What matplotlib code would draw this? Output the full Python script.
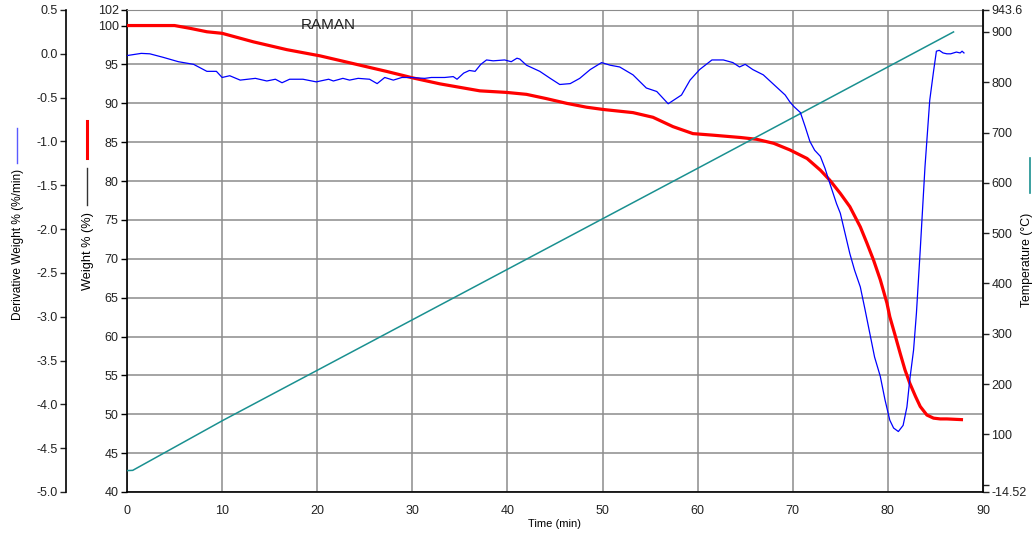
import matplotlib

matplotlib.use("Agg")
import matplotlib.pyplot as plt
from matplotlib.lines import Line2D

plt.rcParams["font.family"] = ["Liberation Sans", "DejaVu Sans"]

INK, GRID = "#000000", "#8c8c8c"
RED, BLUE, TEAL = "#ff0000", "#0000ff", "#1a9090"

# derivative weight (%/min) vs time (min)
time_deriv = [0, 1.5, 2.4, 3.8, 5.4, 7.0, 8.4, 9.4, 10.0, 10.8, 11.9, 13.5, 14.7, 15.6, 16.3,
              17.1, 18.5, 19.9, 21.2, 21.7, 22.7, 23.4, 24.3, 25.5, 26.3, 27.1, 28.0, 28.9,
              29.8, 31.3, 32.0, 33.4, 34.3, 34.7, 35.4, 36.0, 36.6, 37.2, 37.8, 38.5, 39.7,
              40.4, 41.0, 41.3, 42.0, 43.4, 44.5, 45.5, 46.6, 47.6, 48.7, 49.9, 50.8, 51.8,
              53.2, 54.6, 55.7, 56.9, 58.3, 59.2, 60.2, 61.5, 62.7, 63.7, 64.4, 65.0, 65.8,
              66.9, 68.1, 69.2, 69.7, 70.1, 70.8, 71.3, 71.8, 72.3, 72.9, 73.4, 73.9, 74.6,
              75.0, 75.5, 76.0, 76.5, 77.1, 77.6, 78.1, 78.6, 79.2, 79.7, 80.2, 80.6, 81.1,
              81.6, 82.0, 82.3, 82.7, 83.0, 83.4, 83.9, 84.4, 84.8, 85.1, 85.4, 85.8, 86.2,
              86.6, 87.2, 87.6, 87.8, 88.0]
deriv = [-0.02, 0.005, 0.0, -0.04, -0.09, -0.12, -0.20, -0.20, -0.27, -0.25, -0.30, -0.28,
         -0.31, -0.29, -0.33, -0.29, -0.29, -0.32, -0.29, -0.31, -0.28, -0.30, -0.28, -0.29,
         -0.34, -0.27, -0.30, -0.27, -0.27, -0.28, -0.27, -0.27, -0.26, -0.29, -0.22, -0.19,
         -0.20, -0.12, -0.07, -0.08, -0.07, -0.09, -0.05, -0.06, -0.13, -0.20, -0.28, -0.35,
         -0.34, -0.28, -0.18, -0.10, -0.13, -0.15, -0.24, -0.39, -0.43, -0.57, -0.47, -0.30,
         -0.18, -0.07, -0.07, -0.10, -0.15, -0.12, -0.18, -0.24, -0.36, -0.47, -0.55, -0.60,
         -0.67, -0.83, -1.00, -1.10, -1.17, -1.31, -1.48, -1.71, -1.82, -2.05, -2.28, -2.47,
         -2.66, -2.92, -3.19, -3.46, -3.68, -3.95, -4.18, -4.27, -4.31, -4.24, -4.03, -3.72,
         -3.38, -2.96, -2.24, -1.29, -0.53, -0.20, 0.03, 0.04, 0.01, 0.00, 0.00, 0.02, 0.01,
         0.03, 0.01]

# weight % vs time
time_w = [0, 5.0, 6.6, 8.4, 10.0, 13.3, 16.8, 20.3, 23.8, 27.3, 30.1, 32.9, 35.0, 37.1, 39.9,
          42.0, 44.1, 46.2, 48.3, 50.1, 53.2, 55.3, 57.4, 59.5, 61.6, 64.5, 66.2, 68.0, 69.7,
          71.5, 72.9, 73.9, 75.0, 76.0, 77.1, 77.8, 78.5, 79.2, 79.9, 80.2, 80.75, 81.3, 81.8,
          82.3, 82.9, 83.4, 84.1, 84.8, 85.5, 86.2, 87.9]
weight = [100.0, 100.0, 99.65, 99.2, 99.0, 97.9, 96.9, 96.1, 95.1, 94.1, 93.25, 92.5, 92.05,
          91.6, 91.4, 91.15, 90.6, 90.0, 89.5, 89.2, 88.8, 88.2, 87.0, 86.1, 85.9, 85.6, 85.37,
          84.85, 84.0, 82.9, 81.4, 80.1, 78.4, 76.7, 74.1, 72.0, 69.8, 67.3, 64.3, 62.55, 60.2,
          57.8, 55.7, 54.0, 52.3, 51.0, 49.9, 49.5, 49.4, 49.4, 49.3]

# temperature (°C) vs time
time_temp = [0, 0.6, 3.8, 10.1, 61.6, 86.9]
temp = [28, 28.5, 62, 128, 645, 900]

x_ticks = list(range(0, 91, 10))
w_ticks = list(range(40, 101, 5)) + [102]
d_ticks = [v / 2 for v in range(-10, 2)]
t_ticks = [-14.52, 0, 100, 200, 300, 400, 500, 600, 700, 800, 900, 943.6]
t_labels = ["-14.52", ""] + [str(v) for v in t_ticks[2:-1]] + ["943.6"]

fig = plt.figure(figsize=(10.36, 5.41), dpi=100)
fig.patch.set_facecolor("white")
L, R, B, T = 127 / 1036, 983 / 1036, 1 - 492 / 541, 1 - 10 / 541
ax = fig.add_axes([L, B, R - L, T - B])
ax_t = ax.twinx()
ax_d = ax.twinx()

# weight (main axes, grid lives here)
ax.plot(time_w, weight, color=RED, lw=2.3, solid_capstyle="butt", solid_joinstyle="round", zorder=3)
ax.set(xlim=(0, 90), ylim=(40, 102))
ax.set_xticks(x_ticks)
ax.set_yticks(w_ticks)
ax.grid(True, color=GRID, lw=1.1)
ax.tick_params(axis="x", length=0, pad=9, labelsize=9, colors="#222222")
ax.tick_params(axis="y", length=4, width=1, direction="out", labelsize=9, colors="#222222", pad=2)
ax.tick_params(axis="both", color=INK)
ax.set_xlabel("Time (min)", fontsize=8, labelpad=2)
for s in ["top", "right"]:
    ax.spines[s].set_color(GRID)
for s in ["left", "bottom"]:
    ax.spines[s].set_color(INK)
    ax.spines[s].set_linewidth(1.2)

# temperature (right)
ax_t.plot(time_temp, temp, color=TEAL, lw=1.1)
ax_t.set_ylim(-14.52, 943.6)
ax_t.set_yticks(t_ticks)
ax_t.set_yticklabels(t_labels)
ax_t.tick_params(axis="y", length=4, width=1, direction="out", labelsize=9, colors="#222222", pad=2)
ax_t.spines["right"].set_color(INK)
ax_t.spines["right"].set_linewidth(1.2)
for s in ["top", "left", "bottom"]:
    ax_t.spines[s].set_visible(False)

# derivative (outer left)
ax_d.plot(time_deriv, deriv, color=BLUE, lw=0.9)
ax_d.set_ylim(-5.0, 0.5)
ax_d.set_yticks(d_ticks)
ax_d.set_yticklabels([f"{v:.1f}" for v in d_ticks])
ax_d.yaxis.set_ticks_position("left")
ax_d.spines["left"].set_position(("axes", -61 / 856))
ax_d.spines["left"].set_visible(True)
ax_d.spines["left"].set_linewidth(1.2)
for s in ["top", "right", "bottom"]:
    ax_d.spines[s].set_visible(False)
ax_d.tick_params(axis="y", length=4, width=1, direction="out", labelsize=9, colors="#222222", pad=2)

ax.text(0.235, 0.968, "RAMAN", transform=ax.transAxes, ha="center", va="center", fontsize=11, color="#222222")


def fx(px):
    return px / 1036


def fy(py):
    return 1 - py / 541


# axis titles with their little line keys
fig.text(fx(18), fy(244), "Derivative Weight % (%/min)", rotation=90, ha="center", va="center", fontsize=8.6)
fig.add_artist(Line2D([fx(17), fx(17)], [fy(128), fy(163)], color="#5a5aff", lw=1.0))
fig.text(fx(88), fy(251), "Weight % (%)", rotation=90, ha="center", va="center", fontsize=9.2)
fig.add_artist(Line2D([fx(87), fx(87)], [fy(121), fy(158)], color=RED, lw=2.2))
fig.add_artist(Line2D([fx(87), fx(87)], [fy(168), fy(205)], color="#333333", lw=1.0))
fig.text(fx(1027), fy(260), "Temperature (°C)", rotation=90, ha="center", va="center", fontsize=8.8)
fig.add_artist(Line2D([fx(1030), fx(1030)], [fy(158), fy(193)], color=TEAL, lw=1.2))

fig.savefig("out.png", dpi=100)
